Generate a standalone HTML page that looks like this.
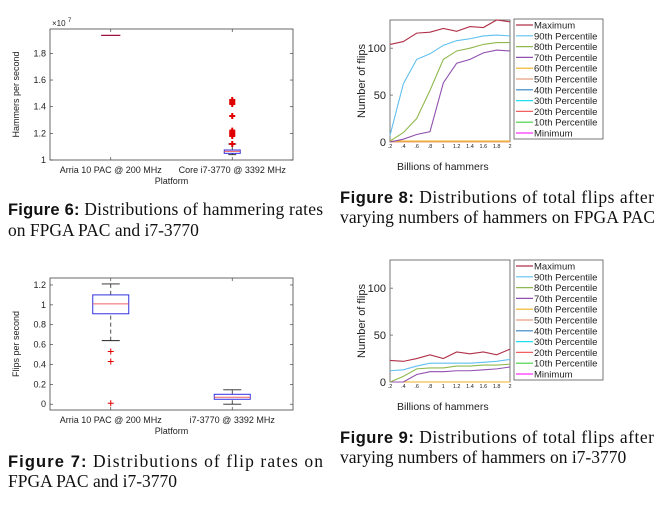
<!DOCTYPE html>
<html><head><meta charset="utf-8"><style>
body{margin:0;background:#fff;width:667px;height:510px;overflow:hidden}
svg{position:absolute;left:0;top:0}
text{font-family:"Liberation Sans",sans-serif;fill:#222}
.cap{font-family:"Liberation Serif",serif;font-size:17.5px;fill:#111}
.capb{font-family:"Liberation Sans",sans-serif;font-weight:bold;font-size:16.5px}
</style></head><body>
<svg id="s" width="667" height="510">
<text class="cap" x="8" y="215" textLength="315"><tspan class="capb">Figure 6:</tspan> Distributions of hammering rates</text>
<text class="cap" x="8" y="236">on FPGA PAC and i7-3770</text>
<text class="cap" x="8" y="467" textLength="315"><tspan class="capb">Figure 7:</tspan>  Distributions of flip rates on</text>
<text class="cap" x="8" y="487">FPGA PAC and i7-3770</text>
<text class="cap" x="340" y="203" textLength="314"><tspan class="capb">Figure 8:</tspan> Distributions of total flips after</text>
<text class="cap" x="340" y="223" textLength="315">varying numbers of hammers on FPGA PAC</text>
<text class="cap" x="340" y="443" textLength="314"><tspan class="capb">Figure 9:</tspan> Distributions of total flips after</text>
<text class="cap" x="340" y="463">varying numbers of hammers on i7-3770</text>
</svg>
<script>
const NS='http://www.w3.org/2000/svg';const S=document.getElementById('s');
function el(t,a,p){const e=document.createElementNS(NS,t);for(const k in a)e.setAttribute(k,a[k]);(p||S).appendChild(e);return e;}
function txt(x,y,s,sz,anchor,extra){const e=el('text',Object.assign({x:x,y:y,'font-size':sz,'text-anchor':anchor||'start'},extra||{}));e.textContent=s;return e;}

// ---------- Box plot data ----------
const boxCats6=['Arria 10 PAC @ 200 MHz','Core i7-3770 @ 3392 MHz'];
const boxStats6=[[1.935,1.935,1.935,1.935,1.935],[1.04,1.05,1.065,1.075,1.12]];
const outliers6=[[],[1.12,1.18,1.19,1.2,1.21,1.22,1.33,1.42,1.43,1.44,1.45]];
const yTicks6=[1,1.2,1.4,1.6,1.8];
const boxCats7=['Arria 10 PAC @ 200 MHz','i7-3770 @ 3392 MHz'];
const boxStats7=[[0.64,0.91,1.01,1.1,1.21],[0,0.05,0.07,0.1,0.145]];
const outliers7=[[0.53,0.43,0.01],[]];
const yTicks7=[0,0.2,0.4,0.6,0.8,1,1.2];
const yTickLabels7=['0','0.2','0.4','0.6','0.8','1','1.2'];

function boxplot(o){
  const g=el('g',{});
  
  
  const {x0,x1,y0,y1,ymin,ymax}=o;
  const Y=v=>y1-(v-ymin)/(ymax-ymin)*(y1-y0);
  const X=i=>x0+(x1-x0)*(i===0?0.25:0.75);
  el('rect',{x:x0,y:y0,width:x1-x0,height:y1-y0,fill:'none',stroke:'#444','stroke-width':0.8},g);
  o.ticks.forEach((t,i)=>{const y=Y(t);
    el('line',{x1:x0,x2:x0+3,y1:y,y2:y,stroke:'#444','stroke-width':0.7},g);
    el('line',{x1:x1,x2:x1-3,y1:y,y2:y,stroke:'#444','stroke-width':0.7},g);
    const lt=txt(x0-4,y+3,o.tickLabels[i],9,'end');});
  o.cats.forEach((c,i)=>{const x=X(i);
    el('line',{x1:x,x2:x,y1:y1,y2:y1-3,stroke:'#444','stroke-width':0.7},g);
    el('line',{x1:x,x2:x,y1:y0,y2:y0+3,stroke:'#444','stroke-width':0.7},g);
    const lt=txt(x,y1+13,c,9,'middle');
    const s=o.stats[i];const w=o.bw;
    if(s[1]===s[3]){el('line',{x1:x-w*1.2,x2:x+w*1.2,y1:Y(s[2]),y2:Y(s[2]),stroke:'#a01040','stroke-width':1.2},g);}
    else{
      el('line',{x1:x,x2:x,y1:Y(s[0]),y2:Y(s[1]),stroke:'#222','stroke-dasharray':'4 3','stroke-width':0.8},g);
      el('line',{x1:x,x2:x,y1:Y(s[3]),y2:Y(s[4]),stroke:'#222','stroke-dasharray':'4 3','stroke-width':0.8},g);
      el('line',{x1:x-w/2,x2:x+w/2,y1:Y(s[0]),y2:Y(s[0]),stroke:'#222','stroke-width':0.9},g);
      el('line',{x1:x-w/2,x2:x+w/2,y1:Y(s[4]),y2:Y(s[4]),stroke:'#222','stroke-width':0.9},g);
      const b=el('rect',{x:x-w,y:Y(s[3]),width:2*w,height:Y(s[1])-Y(s[3]),fill:'#fff',stroke:'#3030e0','stroke-width':1},g);
      
      el('line',{x1:x-w,x2:x+w,y1:Y(s[2]),y2:Y(s[2]),stroke:'#f06060','stroke-width':1},g);
    }
    o.out[i].forEach(v=>{const y=Y(v);const m=el('path',{d:`M${x-3} ${y}H${x+3}M${x} ${y-3}V${y+3}`,stroke:'#e00000','stroke-width':o.thick||1},g);
      });
  });
  const yl=txt(0,0,o.ylabel,9,'middle',{transform:`translate(${x0-31},${(y0+y1)/2}) rotate(-90)`});
  
  const xl=txt((x0+x1)/2,y1+24,'Platform',9,'middle');
  
  S.appendChild(g);
}
boxplot({name:'hammer-rate-boxplot',x0:50,x1:293,y0:29,y1:160,ymin:1,ymax:1.983,ticks:yTicks6,tickLabels:yTicks6.map(String),cats:boxCats6,stats:boxStats6,out:outliers6,bw:8,ylabel:'Hammers per second',thick:2});
const e7=txt(52,26,'×10',8,'start');
const e7b=txt(68,22,'7',6,'start');
boxplot({name:'flip-rate-boxplot',x0:50,x1:293,y0:278,y1:410,ymin:-0.058,ymax:1.27,ticks:yTicks7,tickLabels:yTickLabels7,cats:boxCats7,stats:boxStats7,out:outliers7,bw:18,ylabel:'Flips per second'});

// ---------- Line chart data ----------
const xVals=[0.2,0.4,0.6,0.8,1,1.2,1.4,1.6,1.8,2];
const xTickLabels=['.2','.4','.6','.8','1','1.2','1.4','1.6','1.8','2'];
const seriesNames=['Maximum','90th Percentile','80th Percentile','70th Percentile','60th Percentile','50th Percentile','40th Percentile','30th Percentile','20th Percentile','10th Percentile','Minimum'];
const seriesColors=['#b03048','#60c0f0','#90b850','#9050b0','#f0b020','#e8a080','#3080c0','#20e0f0','#f06060','#40d040','#ff30ff'];
const pac=[[104,107,116,117,121,118,123,122,130,128],[7,62,88,94,103,108,110,113,114,113],[1,10,25,55,88,97,100,104,106,106],[0,3,8,11,63,84,88,95,98,97],[1,1,1,1,1,1,1,1,1,1],[0,0,0,0,0,0,0,0,0,0],[0,0,0,0,0,0,0,0,0,0],[0,0,0,0,0,0,0,0,0,0],[0,0,0,0,0,0,0,0,0,0],[0,0,0,0,0,0,0,0,0,0],[0,0,0,0,0,0,0,0,0,0]];
const i7=[[23,22,25,29,25,32,30,32,29,35],[12,13,17,20,20,20,20,21,22,24],[0,6,14,15,15,17,17,18,18,19],[0,0,8,11,11,12,12,13,14,16],[0,0,0,0,0,0,0,0,0,0],[0,0,0,0,0,0,0,0,0,0],[0,0,0,0,0,0,0,0,0,0],[0,0,0,0,0,0,0,0,0,0],[0,0,0,0,0,0,0,0,0,0],[0,0,0,0,0,0,0,0,0,0],[0,0,0,0,0,0,0,0,0,0]];
const yTicksL=[0,50,100];

function linechart(o){
  const g=el('g',{});
  
  
  const {x0,x1,y0,y1,ymax}=o;
  const X=v=>x0+(v-0.2)/1.8*(x1-x0);
  const Y=v=>y1-v/ymax*(y1-y0);
  el('rect',{x:x0,y:y0,width:x1-x0,height:y1-y0,fill:'#fff',stroke:'#555','stroke-width':0.8},g);
  yTicksL.forEach(t=>{const y=Y(t);el('line',{x1:x0,x2:x0+3,y1:y,y2:y,stroke:'#555','stroke-width':0.7},g);
    const l=txt(x0-4,y+4,String(t),11,'end');});
  xVals.forEach((v,i)=>{const l=txt(X(v),y1+6,xTickLabels[i],5.5,'middle');});
  for(let k=o.data.length-1;k>=0;k--){
    const p=el('polyline',{points:o.data[k].map((v,i)=>X(xVals[i])+','+Y(v)).join(' '),fill:'none',stroke:seriesColors[k],'stroke-width':1.1},g);
    
    
  }
  const yl=txt(0,0,'Number of flips',11,'middle',{transform:`translate(${x0-25},${(y0+y1)/2}) rotate(-90)`});
  
  const xl=txt(x0+7,y1+28,'Billions of hammers',10.5,'start');
  
  const lg=el('g',{},g);
  
  el('rect',{x:514,y:o.ly,width:89,height:120,fill:'#fff',stroke:'#555','stroke-width':0.8},lg);
  seriesNames.forEach((n,k)=>{const y=o.ly+6+k*10.8;
    const le=el('g',{},lg);
    el('line',{x1:516,x2:533,y1:y,y2:y,stroke:seriesColors[k],'stroke-width':1.2},le);
    const t=txt(534,y+3.5,n,9.5,'start');t.setAttribute('fill','#111');le.appendChild(t);});
  S.appendChild(g);
}
linechart({name:'fpga-flips-line-chart',x0:390,x1:510,y0:20,y1:142,ymax:130,data:pac,ly:19});
linechart({name:'i7-flips-line-chart',x0:390,x1:510,y0:260,y1:382,ymax:130,data:i7,ly:260});
</script>
</body></html>
